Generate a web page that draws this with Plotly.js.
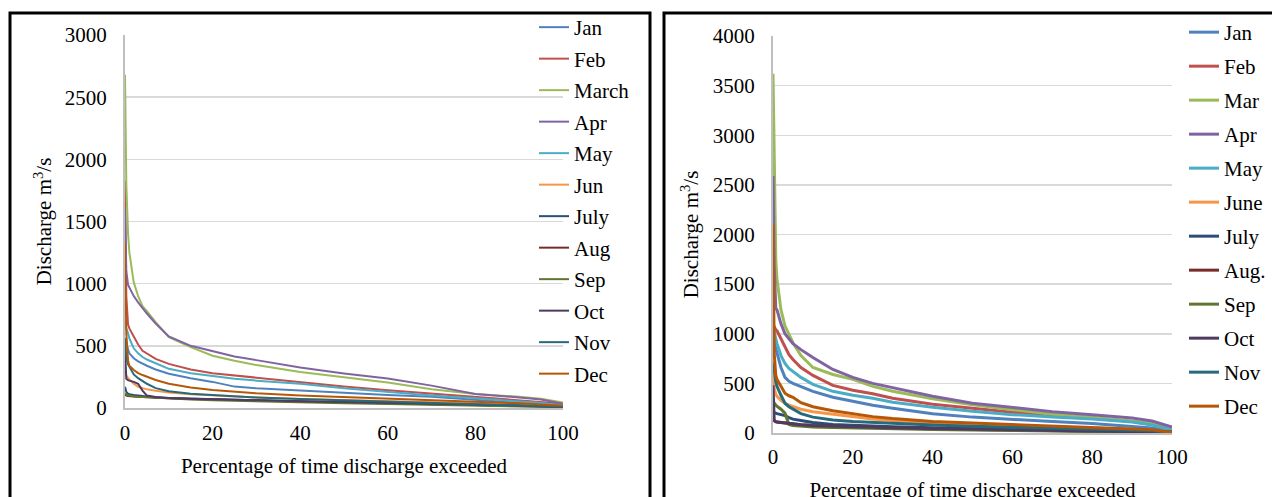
<!DOCTYPE html>
<html>
<head>
<meta charset="utf-8">
<script src="https://cdn.plot.ly/plotly-3.0.1.min.js"></script>
<style>html,body{margin:0;padding:0;background:#fff;overflow:hidden;}#chart{width:1272px;height:512px;}</style>
</head>
<body>
<div id="chart"></div>
<script>
// Percentage of time discharge exceeded (shared x values)
const pct = [0, 0.3, 0.7, 1, 2, 3, 4, 5, 7, 10, 15, 20, 25, 30, 40, 50, 60, 70, 80, 90, 95, 100];

// Left chart
const namesLeft = ["Jan","Feb","March","Apr","May","Jun","July","Aug","Sep","Oct","Nov","Dec"];
const janL = [560,510,470,440,400,375,355,340,310,275,240,210,172,158,140,120,105,90,68,45,32,18];
const febL = [1830,900,670,640,575,510,460,440,395,355,310,280,262,245,205,172,142,115,90,65,50,35];
const marL = [2680,1800,1400,1250,1010,900,820,780,690,570,490,420,380,345,290,250,205,150,112,90,75,45];
const aprL = [1600,1100,990,970,900,850,800,760,680,575,500,460,415,385,325,278,238,180,112,85,68,35];
const mayL = [700,640,600,560,480,440,410,390,360,315,280,255,235,220,195,158,127,100,78,55,40,20];
const junL = [300,260,240,230,195,170,158,150,138,125,110,100,92,85,72,62,52,45,38,30,24,15];
const julL = [170,130,115,110,105,100,95,90,85,80,75,70,65,60,52,45,38,32,25,18,14,8];
const augL = [110,100,97,95,92,90,88,85,82,78,72,68,63,58,50,43,37,30,24,17,13,8];
const sepL = [120,108,103,100,95,90,88,85,80,75,68,62,57,52,45,38,32,27,22,15,11,6];
const octL = [470,235,225,220,210,195,140,100,88,80,75,70,66,62,55,48,42,35,28,20,14,8];
const novL = [560,400,350,330,270,240,215,195,160,135,115,105,95,85,72,62,52,42,35,25,18,10];
const decL = [1330,600,380,340,305,280,265,250,225,195,165,145,130,118,100,88,75,62,50,38,28,18];

// Right chart
const namesRight = ["Jan","Feb","Mar","Apr","May","June","July","Aug.","Sep","Oct","Nov","Dec"];
const janR = [950,920,850,800,660,560,520,500,470,420,360,320,280,250,195,160,135,115,95,70,50,15];
const febR = [1100,1070,1040,1030,950,870,790,740,660,580,480,430,395,350,290,250,210,185,150,115,85,30];
const marR = [3620,2600,1750,1550,1240,1080,1000,910,780,660,590,540,470,420,345,285,235,190,160,120,100,60];
const aprR = [2590,1700,1260,1240,1100,1000,950,900,840,760,640,560,500,455,370,300,255,215,185,150,120,60];
const mayR = [1050,1020,950,900,780,700,650,620,560,490,420,380,350,310,260,220,185,160,140,110,80,30];
const junR = [720,450,390,370,330,300,280,265,240,215,190,170,140,125,100,85,75,62,50,38,28,10];
const julR = [210,205,198,195,185,175,155,140,125,105,85,75,68,62,52,45,38,32,26,20,15,8];
const augR = [130,120,113,110,105,100,95,90,82,75,67,60,55,50,42,36,30,25,20,15,11,5];
const sepR = [320,300,280,270,240,200,85,75,68,60,55,50,46,42,36,30,25,20,16,12,9,5];
const octR = [480,130,115,110,105,100,95,90,82,75,68,62,57,52,45,40,35,30,25,18,13,8];
const novR = [700,650,520,470,380,300,265,240,195,160,130,115,105,95,80,68,58,48,40,30,22,10];
const decR = [2100,800,580,540,470,400,375,360,305,265,225,195,165,145,115,100,85,72,60,45,32,5];

const xTicks = [0, 20, 40, 60, 80, 100];
const yTicksLeft = [0, 500, 1000, 1500, 2000, 2500, 3000];
const yTicksRight = [0, 500, 1000, 1500, 2000, 2500, 3000, 3500, 4000];

const colors = ["#4F81BD","#C0504D","#9BBB59","#8064A2","#4BACC6","#F79646",
                "#2C4D75","#772C2A","#5F7530","#4D3B62","#276A7C","#B65708"];

const seriesLeft = [janL,febL,marL,aprL,mayL,junL,julL,augL,sepL,octL,novL,decL];
const seriesRight = [janR,febR,marR,aprR,mayR,junR,julR,augR,sepR,octR,novR,decR];

const FONT = "Liberation Serif";
const FS = 21;
const traces = [];
seriesLeft.forEach((ys, i) => {
  traces.push({
    x: pct, y: ys, name: namesLeft[i], type: "scatter", mode: "lines",
    line: {color: colors[i], width: 2}, xaxis: "x", yaxis: "y",
    legend: "legend", legendgroup: "L" + i
  });
});
seriesRight.forEach((ys, i) => {
  traces.push({
    x: pct, y: ys, name: namesRight[i], type: "scatter", mode: "lines",
    line: {color: colors[i], width: 3}, xaxis: "x2", yaxis: "y2",
    legend: "legend2", legendgroup: "R" + i
  });
});

const W = 1272, H = 512;
const px = v => v / W;
const py = v => 1 - v / H;

function ax(extra) {
  return Object.assign({
    showline: true, linecolor: "#bfbfbf", linewidth: 2,
    zeroline: false, ticks: "outside", tickcolor: "rgba(0,0,0,0)",
    tickfont: {family: FONT, size: FS, color: "#000"}, fixedrange: true
  }, extra);
}

const layout = {
  width: W, height: H,
  margin: {l: 0, r: 0, t: 0, b: 0},
  paper_bgcolor: "#fff", plot_bgcolor: "#fff",
  showlegend: true,
  font: {family: FONT, size: FS, color: "#000"},
  xaxis: ax({
    domain: [px(125), px(563)], anchor: "y", range: [0, 100], ticklen: 5,
    tickvals: xTicks, showgrid: false,
    title: {text: "Percentage of time discharge exceeded", font: {family: FONT, size: FS}, standoff: 14}
  }),
  yaxis: ax({
    domain: [py(408), py(35)], anchor: "x", range: [0, 3000], ticklen: 12,
    tickvals: yTicksLeft, showgrid: true, gridcolor: "#d9d9d9", gridwidth: 1.5,
    title: {text: "Discharge m<sup>3</sup>/s", font: {family: FONT, size: FS}, standoff: 7}
  }),
  xaxis2: ax({
    domain: [px(773), px(1172)], anchor: "y2", range: [0, 100], ticklen: 4,
    tickvals: xTicks, showgrid: false,
    title: {text: "Percentage of time discharge exceeded", font: {family: FONT, size: FS}, standoff: 14}
  }),
  yaxis2: ax({
    domain: [py(433), py(36)], anchor: "x2", range: [0, 4000], ticklen: 12,
    tickvals: yTicksRight, showgrid: true, gridcolor: "#d9d9d9", gridwidth: 1.5,
    title: {text: "Discharge m<sup>3</sup>/s", font: {family: FONT, size: FS}, standoff: 8}
  }),
  legend: {
    x: px(534), y: py(7), xanchor: "left", yanchor: "top",
    traceorder: "grouped", tracegroupgap: 1.2, bgcolor: "rgba(0,0,0,0)",
    font: {family: FONT, size: FS, color: "#000"}
  },
  legend2: {
    x: px(1184), y: py(12), xanchor: "left", yanchor: "top",
    traceorder: "grouped", tracegroupgap: 3.7, bgcolor: "rgba(0,0,0,0)",
    font: {family: FONT, size: FS, color: "#000"}
  },
  shapes: [
    {type: "rect", xref: "paper", yref: "paper", x0: px(10), x1: px(650), y0: -0.1, y1: py(13),
     line: {color: "#000", width: 3}, fillcolor: "rgba(0,0,0,0)", layer: "above"},
    {type: "rect", xref: "paper", yref: "paper", x0: px(664), x1: 1.1, y0: -0.1, y1: py(13),
     line: {color: "#000", width: 3}, fillcolor: "rgba(0,0,0,0)", layer: "above"}
  ]
};

Plotly.newPlot("chart", traces, layout, {staticPlot: true, displayModeBar: false});
</script>
</body>
</html>
